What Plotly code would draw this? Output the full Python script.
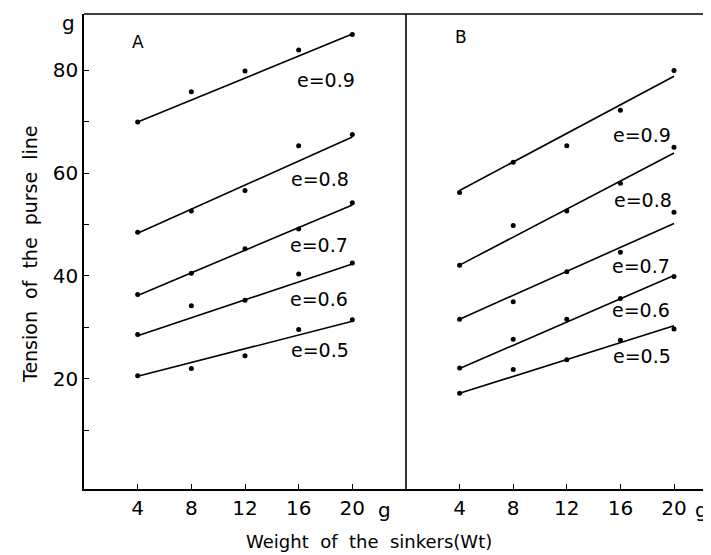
import plotly.graph_objects as go

# ---- data ----
sinker_weight = [4, 8, 12, 16, 20]
e_labels = ["e=0.9", "e=0.8", "e=0.7", "e=0.6", "e=0.5"]

tension_A_09 = [69.9, 75.8, 79.8, 83.9, 86.9]
tension_A_08 = [48.5, 52.6, 56.6, 65.3, 67.5]
tension_A_07 = [36.4, 40.5, 45.3, 49.1, 54.2]
tension_A_06 = [28.6, 34.2, 35.3, 40.4, 42.5]
tension_A_05 = [20.6, 22.0, 24.5, 29.6, 31.5]

tension_B_09 = [56.2, 62.1, 65.3, 72.2, 79.9]
tension_B_08 = [42.1, 49.8, 52.6, 58.0, 65.0]
tension_B_07 = [31.6, 35.0, 40.8, 44.6, 52.4]
tension_B_06 = [22.1, 27.7, 31.6, 35.6, 39.9]
tension_B_05 = [17.2, 21.8, 23.7, 27.5, 29.7]

# fitted (hand-drawn) lines, value at start and end weight
line_x = [4, 20]
line_A_09 = [69.9, 87.0]
line_A_08 = [48.3, 67.0]
line_A_07 = [36.2, 53.8]
line_A_06 = [28.4, 42.3]
line_A_05 = [20.5, 31.2]
line_B_09 = [56.6, 78.8]
line_B_08 = [42.1, 63.9]
line_B_07 = [31.6, 50.2]
line_B_06 = [22.0, 40.1]
line_B_05 = [17.2, 30.3]

x_ticks = [4, 8, 12, 16, 20]
y_ticks = [10, 20, 30, 40, 50, 60, 70, 80]
y_ticktext = ["", "20", "", "40", "", "60", "", "80"]

points_A = [tension_A_09, tension_A_08, tension_A_07, tension_A_06, tension_A_05]
points_B = [tension_B_09, tension_B_08, tension_B_07, tension_B_06, tension_B_05]
lines_A = [line_A_09, line_A_08, line_A_07, line_A_06, line_A_05]
lines_B = [line_B_09, line_B_08, line_B_07, line_B_06, line_B_05]

# label positions (layout)
label_pos_A = [(18.0, 78.1), (17.6, 58.9), (17.5, 46.1), (17.5, 35.6), (17.6, 25.7)]
label_pos_B = [(17.6, 67.4), (17.7, 54.7), (17.5, 41.9), (17.5, 33.3), (17.6, 24.4)]

FONT = "DejaVu Sans"
W, H, L, T, B = 711, 555, 76, 6, 74
PW, PH = W - L, H - T - B


def px_x(p):
    return (p - L) / PW


def px_y(p):
    return (H - B - p) / PH


fig = go.Figure()

for xa, pts, lns in [("x", points_A, lines_A), ("x2", points_B, lines_B)]:
    for p, l in zip(pts, lns):
        fig.add_trace(go.Scatter(x=line_x, y=l, mode="lines", xaxis=xa, yaxis="y",
                                 line=dict(color="black", width=1.6), showlegend=False))
        fig.add_trace(go.Scatter(x=sinker_weight, y=p, mode="markers", xaxis=xa, yaxis="y",
                                 marker=dict(color="black", size=5), showlegend=False))

split = px_x(398)
f19 = dict(size=19, color="black", family=FONT)
ann = []
for (x, y), t in zip(label_pos_A, e_labels):
    ann.append(dict(x=x, y=y, xref="x", yref="y", text=t, showarrow=False, font=f19))
for (x, y), t in zip(label_pos_B, e_labels):
    ann.append(dict(x=x, y=y, xref="x2", yref="y", text=t, showarrow=False, font=f19))
ann += [
    dict(x=4.0, y=85.5, xref="x", yref="y", text="A", showarrow=False,
         font=dict(size=17, color="black", family=FONT)),
    dict(x=4.1, y=86.5, xref="x2", yref="y", text="B", showarrow=False,
         font=dict(size=17, color="black", family=FONT)),
    dict(x=px_x(376), y=px_y(502), xref="paper", yref="paper", text="g", showarrow=False,
         xanchor="center", yanchor="middle", font=dict(size=20, color="black", family=FONT)),
    dict(x=px_x(693), y=px_y(502), xref="paper", yref="paper", text="g", showarrow=False,
         xanchor="center", yanchor="middle", font=dict(size=20, color="black", family=FONT)),
    dict(x=px_x(60), y=px_y(15), xref="paper", yref="paper", text="g", showarrow=False,
         xanchor="center", yanchor="middle", font=dict(size=20, color="black", family=FONT)),
    dict(x=px_x(361), y=px_y(533), xref="paper", yref="paper",
         text="Weight  of  the  sinkers(Wt)", showarrow=False,
         xanchor="center", yanchor="middle", font=dict(size=18, color="black", family=FONT)),
    dict(x=px_x(22), y=px_y(246), xref="paper", yref="paper",
         text="Tension  of  the  purse  line", textangle=-90, showarrow=False,
         xanchor="center", yanchor="middle", font=dict(size=19, color="black", family=FONT)),
]

axis_common = dict(showgrid=False, zeroline=False, showline=True, linecolor="black", linewidth=1.6,
                   ticks="inside", ticklen=5, tickcolor="black", tickwidth=1.3,
                   tickfont=dict(size=20, color="black", family=FONT))

fig.update_layout(
    width=W, height=H,
    margin=dict(l=L, r=0, t=T, b=B),
    paper_bgcolor="white", plot_bgcolor="white",
    xaxis=dict(domain=[0, split], range=[0, 24], tickvals=x_ticks, anchor="y", **axis_common),
    xaxis2=dict(domain=[split, 1], range=[0, 313 / 13.4], tickvals=x_ticks, anchor="y", **axis_common),
    yaxis=dict(range=[-1.4, 90.9], tickvals=y_ticks, ticktext=y_ticktext, anchor="x", **axis_common),
    annotations=ann,
    shapes=[
        dict(type="line", xref="paper", yref="paper", x0=0, x1=1, y0=1, y1=1,
             line=dict(color="black", width=1.6)),
        dict(type="line", xref="paper", yref="paper", x0=split, x1=split, y0=0, y1=1,
             line=dict(color="black", width=1.6)),
    ],
)

fig.write_html("out.html")
